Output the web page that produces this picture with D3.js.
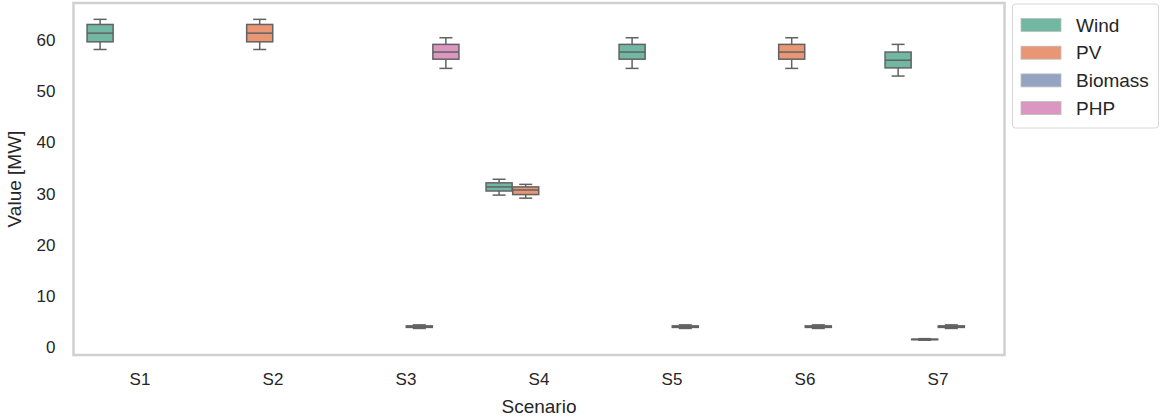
<!DOCTYPE html>
<html>
<head>
<meta charset="utf-8">
<script src="https://cdn.jsdelivr.net/npm/d3@7"></script>
<style>
  html, body { margin: 0; padding: 0; background: #fff; }
  svg { display: block; font-family: "Liberation Sans", Arial, Helvetica, sans-serif; }
</style>
</head>
<body>
<svg id="chart" width="1161" height="417"></svg>
<script>
// ---- data ----
const scenarios = ["S1", "S2", "S3", "S4", "S5", "S6", "S7"];
const techs = ["Wind", "PV", "Biomass", "PHP"];
const techColors = ["#71b7a1", "#e99675", "#95a3c3", "#db96c1"];
const yTicks = [0, 10, 20, 30, 40, 50, 60];

// box statistics, one entry per drawn box
const boxScenario = ["S1", "S2", "S3", "S3", "S4", "S4", "S5", "S5", "S6", "S6", "S7", "S7", "S7"];
const boxTech     = ["Wind", "PV", "Biomass", "PHP", "Wind", "PV", "Wind", "Biomass", "PV", "Biomass", "Wind", "PV", "Biomass"];
const boxLow      = [58.2, 58.2, 3.6, 54.5, 29.7, 29.1, 54.5, 3.6, 54.5, 3.6, 53.0, 1.30, 3.6];
const boxQ1       = [59.7, 59.7, 3.8, 56.3, 30.5, 29.8, 56.3, 3.8, 56.3, 3.8, 54.6, 1.40, 3.8];
const boxMedian   = [61.4, 61.4, 3.95, 57.7, 31.3, 30.7, 57.7, 3.95, 57.7, 3.95, 56.1, 1.45, 3.95];
const boxQ3       = [63.1, 63.1, 4.1, 59.2, 32.1, 31.3, 59.2, 4.1, 59.2, 4.1, 57.7, 1.50, 4.1];
const boxHigh     = [64.1, 64.1, 4.3, 60.5, 32.8, 31.8, 60.5, 4.3, 60.5, 4.3, 59.2, 1.60, 4.3];

// ---- layout ----
const svg = d3.select("#chart");
const plot = { left: 73.5, right: 1004.5, top: 3, bottom: 355 };
const textColor = "#262626";
const lineColor = "#626262";

const x = d3.scaleBand().domain(scenarios).range([plot.left, plot.right]).padding(0);
const bw = x.bandwidth();
const xHue = d3.scaleBand().domain(techs).range([-0.4 * bw, 0.4 * bw]).padding(0);
const y = d3.scaleLinear().domain([-1.6, 67.3]).range([plot.bottom, plot.top]);
const color = d3.scaleOrdinal().domain(techs).range(techColors);

// y tick labels
const yAxis = d3.axisLeft(y).tickValues(yTicks).tickSize(0).tickPadding(18);
const gy = svg.append("g").attr("transform", `translate(${plot.left},0)`).call(yAxis);
gy.select(".domain").remove();
gy.selectAll("text").attr("fill", textColor).style("font-size", "17px")
  .style("font-family", "'Liberation Sans', Arial, sans-serif");

// x tick labels
const xAxis = d3.axisBottom(x).tickSize(0).tickPadding(18);
const gx = svg.append("g").attr("transform", `translate(0,${plot.bottom})`).call(xAxis);
gx.select(".domain").remove();
gx.selectAll("text").attr("fill", textColor).style("font-size", "17px")
  .style("font-family", "'Liberation Sans', Arial, sans-serif");

// axis titles
svg.append("text").attr("x", (plot.left + plot.right) / 2).attr("y", 413)
  .attr("text-anchor", "middle").attr("fill", textColor).style("font-size", "19px").text("Scenario");
svg.append("text").attr("transform", `translate(21,${(plot.top + plot.bottom) / 2}) rotate(-90)`)
  .attr("text-anchor", "middle").attr("fill", textColor).style("font-size", "19px").text("Value [MW]");

// boxes
const boxes = boxScenario.map((s, i) => ({
  s, t: boxTech[i], lo: boxLow[i], q1: boxQ1[i], med: boxMedian[i], q3: boxQ3[i], hi: boxHigh[i]
}));
const boxW = xHue.bandwidth() * 0.98;
const capW = boxW / 2;

const g = svg.append("g");
boxes.forEach(b => {
  const cx = x(b.s) + bw / 2 + xHue(b.t) + xHue.bandwidth() / 2;
  const gb = g.append("g");
  gb.append("line").attr("x1", cx).attr("x2", cx).attr("y1", y(b.q3)).attr("y2", y(b.hi))
    .attr("stroke", lineColor).attr("stroke-width", 1.5);
  gb.append("line").attr("x1", cx).attr("x2", cx).attr("y1", y(b.q1)).attr("y2", y(b.lo))
    .attr("stroke", lineColor).attr("stroke-width", 1.5);
  [b.hi, b.lo].forEach(v => {
    gb.append("line").attr("x1", cx - capW / 2).attr("x2", cx + capW / 2).attr("y1", y(v)).attr("y2", y(v))
      .attr("stroke", lineColor).attr("stroke-width", 1.5);
  });
  gb.append("rect").attr("x", cx - boxW / 2).attr("width", boxW)
    .attr("y", y(b.q3)).attr("height", Math.max(0.1, y(b.q1) - y(b.q3)))
    .attr("fill", color(b.t)).attr("stroke", lineColor).attr("stroke-width", 1.5);
  gb.append("line").attr("x1", cx - boxW / 2).attr("x2", cx + boxW / 2).attr("y1", y(b.med)).attr("y2", y(b.med))
    .attr("stroke", lineColor).attr("stroke-width", 1.5);
});

// frame
svg.append("rect").attr("x", plot.left).attr("y", plot.top)
  .attr("width", plot.right - plot.left).attr("height", plot.bottom - plot.top)
  .attr("fill", "none").attr("stroke", "#d0d0d0").attr("stroke-width", 2.5);

// legend
const leg = svg.append("g");
leg.append("rect").attr("x", 1012.5).attr("y", 4).attr("width", 146).attr("height", 124)
  .attr("rx", 3).attr("fill", "#fff").attr("stroke", "#d6d6d6").attr("stroke-width", 1);
techs.forEach((t, i) => {
  const cy = 25 + i * 27.7;
  leg.append("rect").attr("x", 1021).attr("y", cy - 6.5).attr("width", 40).attr("height", 13)
    .attr("fill", color(t)).attr("stroke", "#bdbdbd").attr("stroke-width", 0.8);
  leg.append("text").attr("x", 1076).attr("y", cy).attr("dy", "0.35em")
    .attr("fill", textColor).style("font-size", "19px").text(t);
});
</script>
</body>
</html>
